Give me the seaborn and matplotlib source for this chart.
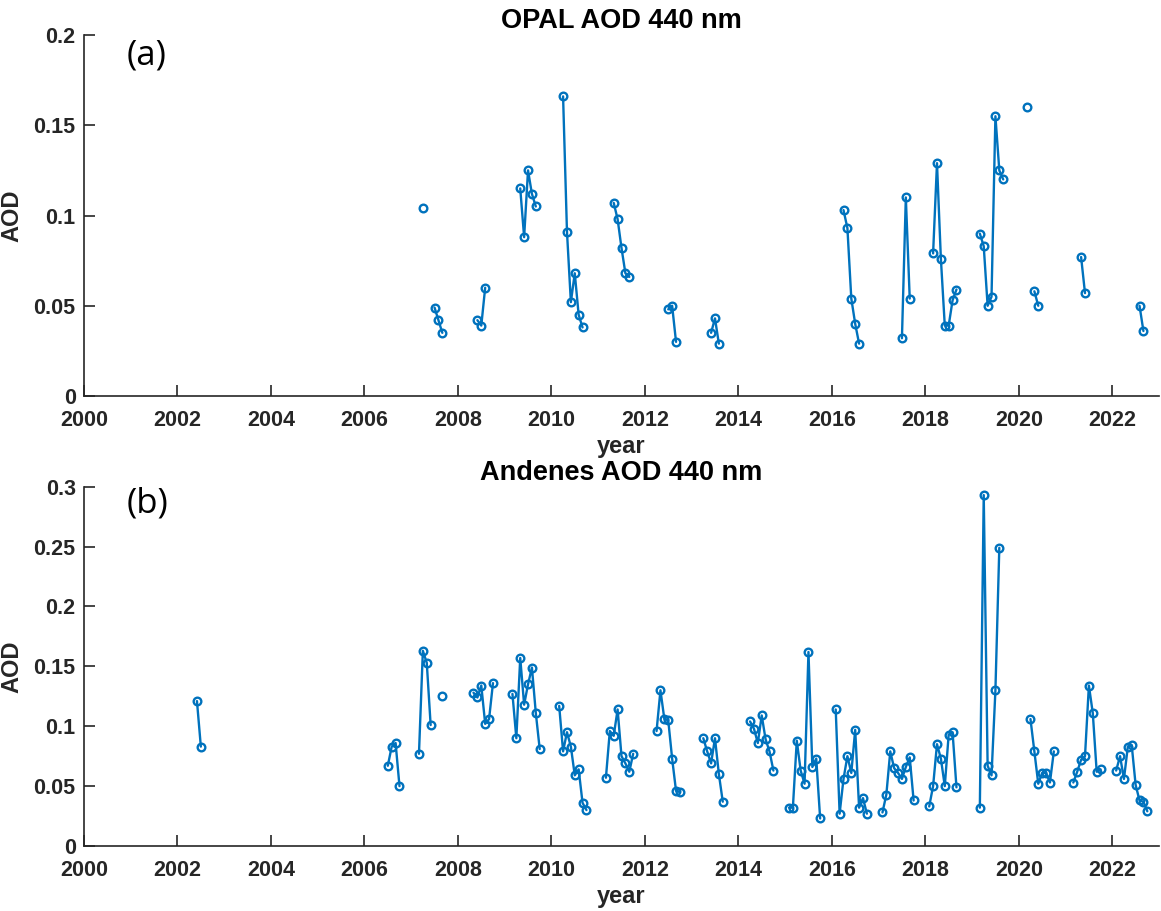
import pandas as pd
import numpy as np
import matplotlib
matplotlib.use("Agg")
import matplotlib.pyplot as plt
import seaborn as sns
from matplotlib.ticker import FuncFormatter

# OPAL monthly AOD at 440 nm
opal_months = ["2007-04", "2007-07", "2007-08", "2007-09",
               "2008-06", "2008-07", "2008-08",
               "2009-05", "2009-06", "2009-07", "2009-08", "2009-09",
               "2010-04", "2010-05", "2010-06", "2010-07", "2010-08", "2010-09",
               "2011-05", "2011-06", "2011-07", "2011-08", "2011-09",
               "2012-07", "2012-08", "2012-09",
               "2013-06", "2013-07", "2013-08",
               "2016-04", "2016-05", "2016-06", "2016-07", "2016-08",
               "2017-07", "2017-08", "2017-09",
               "2018-03", "2018-04", "2018-05", "2018-06", "2018-07", "2018-08", "2018-09",
               "2019-03", "2019-04", "2019-05", "2019-06", "2019-07", "2019-08", "2019-09",
               "2020-03", "2020-05", "2020-06",
               "2021-05", "2021-06",
               "2022-08", "2022-09"]
opal_aod = [0.104, 0.049, 0.042, 0.035,
            0.042, 0.039, 0.060,
            0.115, 0.088, 0.125, 0.112, 0.105,
            0.166, 0.091, 0.052, 0.068, 0.045, 0.038,
            0.107, 0.098, 0.082, 0.068, 0.066,
            0.048, 0.050, 0.030,
            0.035, 0.043, 0.029,
            0.103, 0.093, 0.054, 0.040, 0.029,
            0.032, 0.110, 0.054,
            0.079, 0.129, 0.076, 0.039, 0.039, 0.053, 0.059,
            0.090, 0.083, 0.050, 0.055, 0.155, 0.125, 0.120,
            0.160, 0.058, 0.050,
            0.077, 0.057,
            0.050, 0.036]

# Andenes monthly AOD at 440 nm
andenes_months = ["2002-06", "2002-07",
                  "2006-07", "2006-08", "2006-09", "2006-10",
                  "2007-03", "2007-04", "2007-05", "2007-06", "2007-09",
                  "2008-05", "2008-06", "2008-07", "2008-08", "2008-09", "2008-10",
                  "2009-03", "2009-04", "2009-05", "2009-06", "2009-07", "2009-08", "2009-09", "2009-10",
                  "2010-03", "2010-04", "2010-05", "2010-06", "2010-07", "2010-08", "2010-09", "2010-10",
                  "2011-03", "2011-04", "2011-05", "2011-06", "2011-07", "2011-08", "2011-09", "2011-10",
                  "2012-04", "2012-05", "2012-06", "2012-07", "2012-08", "2012-09", "2012-10",
                  "2013-04", "2013-05", "2013-06", "2013-07", "2013-08", "2013-09",
                  "2014-04", "2014-05", "2014-06", "2014-07", "2014-08", "2014-09", "2014-10",
                  "2015-02", "2015-03", "2015-04", "2015-05", "2015-06", "2015-07", "2015-08", "2015-09", "2015-10",
                  "2016-02", "2016-03", "2016-04", "2016-05", "2016-06", "2016-07", "2016-08", "2016-09", "2016-10",
                  "2017-02", "2017-03", "2017-04", "2017-05", "2017-06", "2017-07", "2017-08", "2017-09", "2017-10",
                  "2018-02", "2018-03", "2018-04", "2018-05", "2018-06", "2018-07", "2018-08", "2018-09",
                  "2019-03", "2019-04", "2019-05", "2019-06", "2019-07", "2019-08",
                  "2020-04", "2020-05", "2020-06", "2020-07", "2020-08", "2020-09", "2020-10",
                  "2021-03", "2021-04", "2021-05", "2021-06", "2021-07", "2021-08", "2021-09", "2021-10",
                  "2022-02", "2022-03", "2022-04", "2022-05", "2022-06", "2022-07", "2022-08", "2022-09", "2022-10"]
andenes_aod = [0.121, 0.083,
               0.067, 0.083, 0.086, 0.050,
               0.077, 0.163, 0.153, 0.101, 0.125,
               0.128, 0.124, 0.134, 0.102, 0.106, 0.136,
               0.127, 0.090, 0.157, 0.118, 0.135, 0.149, 0.111, 0.081,
               0.117, 0.079, 0.095, 0.083, 0.059, 0.064, 0.036, 0.030,
               0.057, 0.096, 0.092, 0.114, 0.075, 0.069, 0.062, 0.077,
               0.096, 0.130, 0.106, 0.105, 0.073, 0.046, 0.045,
               0.090, 0.079, 0.069, 0.090, 0.060, 0.037,
               0.104, 0.098, 0.086, 0.109, 0.089, 0.079, 0.063,
               0.032, 0.032, 0.088, 0.063, 0.052, 0.162, 0.066, 0.073, 0.023,
               0.114, 0.027, 0.056, 0.075, 0.061, 0.097, 0.032, 0.040, 0.027,
               0.028, 0.043, 0.079, 0.065, 0.061, 0.056, 0.066, 0.074, 0.038,
               0.033, 0.050, 0.085, 0.073, 0.050, 0.093, 0.095, 0.049,
               0.032, 0.293, 0.067, 0.059, 0.130, 0.249,
               0.106, 0.079, 0.052, 0.061, 0.061, 0.053, 0.079,
               0.053, 0.062, 0.072, 0.075, 0.134, 0.111, 0.062, 0.064,
               0.063, 0.075, 0.056, 0.083, 0.084, 0.051, 0.038, 0.037, 0.029]

year_ticks = list(range(2000, 2023, 2))
blue = "#0072BD"


def make_frame(months, aod):
    d = pd.DataFrame({"month": pd.to_datetime(months), "aod": aod})
    idx = d["month"].dt.year * 12 + d["month"].dt.month - 1
    d["t"] = idx / 12.0
    # break the line wherever a month is missing
    d["seg"] = (idx.diff() != 1).cumsum()
    return d


sns.set_theme(style="ticks")
plt.rcParams["font.family"] = ["Liberation Sans", "DejaVu Sans"]
plt.rcParams["font.weight"] = "bold"

fig = plt.figure(figsize=(11.61, 9.11), dpi=100)
W, H = 1161, 911
ax1 = fig.add_axes([84 / W, 1 - 396 / H, 1075 / W, 361 / H])
ax2 = fig.add_axes([84 / W, 1 - 846 / H, 1075 / W, 359.3 / H])

panels = [(ax1, make_frame(opal_months, opal_aod), "OPAL AOD 440 nm", 0.2, "(a)", 56),
          (ax2, make_frame(andenes_months, andenes_aod), "Andenes AOD 440 nm", 0.3, "(b)", 504)]

for ax, df, title, ymax, tag, tag_y in panels:
    sns.lineplot(data=df, x="t", y="aod", units="seg", estimator=None, ax=ax,
                 color=blue, linewidth=1.7, marker="o", markersize=5.5,
                 markeredgewidth=1.7, markeredgecolor=blue, markerfacecolor="none",
                 legend=False)
    ax.set_xlim(2000, 2023)
    ax.set_ylim(0, ymax)
    ax.set_xticks(year_ticks)
    ax.set_yticks(np.arange(0, ymax + 0.001, 0.05))
    ax.yaxis.set_major_formatter(FuncFormatter(lambda v, p: "%g" % round(v, 3)))
    ax.tick_params(direction="in", length=8, width=1.2, labelsize=15.5,
                   colors="#262626")
    ax.tick_params(axis="x", pad=10)
    ax.tick_params(axis="y", pad=6)
    for s in ["top", "right"]:
        ax.spines[s].set_visible(False)
    for s in ["left", "bottom"]:
        ax.spines[s].set_linewidth(1.2)
        ax.spines[s].set_color("#262626")
    ax.set_xlabel("year", fontsize=17, fontweight="bold", labelpad=3)
    ax.set_ylabel("AOD", fontsize=17, fontweight="bold", labelpad=7)
    ax.set_title(title, fontsize=19.5, fontweight="bold", color="black", pad=5)
    fig.text(127 / W, 1 - tag_y / H, tag, fontsize=25, fontweight="normal",
             color="black", family=["Open Sans", "DejaVu Sans"],
             va="center", ha="left")

fig.savefig("out.png", dpi=100)
